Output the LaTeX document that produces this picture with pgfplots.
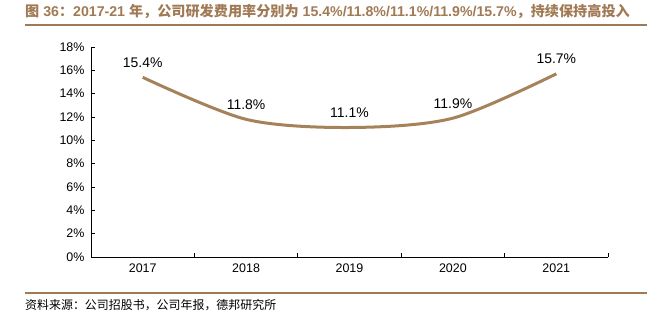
\documentclass[border=0pt]{standalone}
\usepackage{pgfplots}
\pgfplotsset{compat=1.18}
\usepackage{fontspec}
\setmainfont{Liberation Sans}
\newfontfamily\cjk{Noto Sans CJK SC}
\definecolor{brn}{HTML}{A6825A}
\definecolor{ttl}{HTML}{A07A55}
\begin{document}
\begin{tikzpicture}
\useasboundingbox (0,0) rectangle (652bp,326bp);
% title
\node[anchor=west, text=ttl, inner sep=0pt, font=\fontsize{14.2}{15}\selectfont\bfseries] at (25bp,315bp)
  {{\cjk\bfseries 图} 36{\cjk\bfseries ：}2017-21 {\cjk\bfseries 年，公司研发费用率分别为} 15.4\%/11.8\%/11.1\%/11.9\%/15.7\%{\cjk\bfseries ，持续保持高投入}};
\draw[ttl, line width=1.2bp] (25bp,301bp) -- (647bp,301bp);
\draw[ttl, line width=1.2bp] (25bp,33bp) -- (647bp,33bp);
\node[anchor=west, inner sep=0pt, font=\fontsize{12}{12}\selectfont\cjk] at (25bp,21bp)
  {资料来源：公司招股书，公司年报，德邦研究所};
\begin{axis}[
  at={(91bp,69bp)}, anchor=south west,
  scale only axis, width=517bp, height=210bp,
  xmin=-0.5, xmax=4.5, ymin=0, ymax=18,
  axis x line*=bottom, axis y line*=left,
  axis line style={black, line width=1bp},
  xtick={0,1,2,3,4},
  xticklabels={2017,2018,2019,2020,2021},
  major x tick style={draw=none},
  minor xtick={0.5,1.5,2.5,3.5,4.5},
  minor x tick style={black, line width=0.8bp},
  minor tick length=4bp,
  ytick={0,2,...,18},
  yticklabel={\pgfmathprintnumber{\tick}\%},
  y tick style={black, line width=0.8bp},
  major tick length=4bp,
  tick align=inside,
  /pgf/number format/assume math mode=true,
  tick label style={font=\fontsize{12.5}{12.5}\selectfont},
  xticklabel style={yshift=-3bp},
  yticklabel style={xshift=-3bp},
  clip=false,
  nodes near coords={\pgfmathprintnumber[fixed,precision=1,fixed zerofill]{\pgfplotspointmeta}\%},
  every node near coord/.append style={font=\fontsize{14}{14}\selectfont, anchor=south, yshift=5bp, text=black},
]
\addplot[brn, line width=3bp, smooth, tension=0.5, mark=none] coordinates {
  (0,15.4) (1,11.8) (2,11.1) (3,11.9) (4,15.7)
};
\end{axis}
\end{tikzpicture}
\end{document}
